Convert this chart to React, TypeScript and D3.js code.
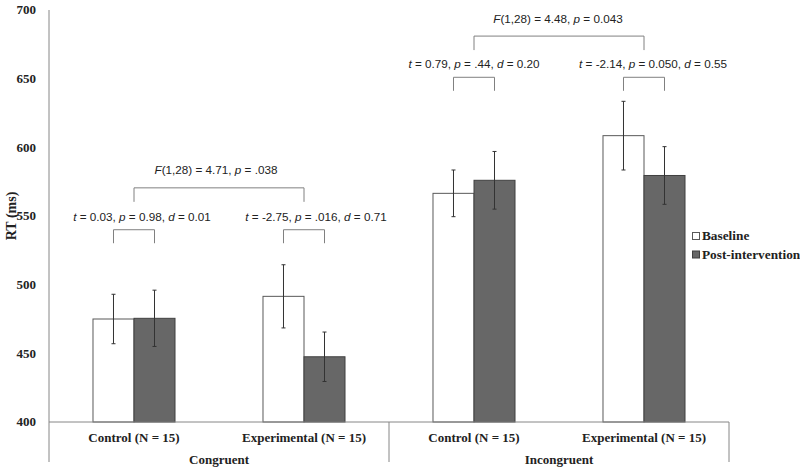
import React from "react";
import * as d3 from "d3";

// ---- data ----
const conditions = ["Congruent", "Incongruent"];
const groups = ["Control (N = 15)", "Experimental (N = 15)"];
const series = ["Baseline", "Post-intervention"];
const baselineMeans = [475, 491.5, 566.5, 608.5];
const postMeans = [475.5, 447.5, 576, 579.5];
const baselineErr = [18, 23, 17, 25];
const postErr = [20.5, 18, 21, 21];
const yTicks = [400, 450, 500, 550, 600, 650, 700];

const tValues = ["0.03", "-2.75", "0.79", "-2.14"];
const tPValues = ["0.98", ".016", ".44", "0.050"];
const dValues = ["0.01", "0.71", "0.20", "0.55"];
const tBracketLevel = [540, 540, 651, 651];
const fValues = ["4.71", "4.48"];
const fPValues = [".038", "0.043"];
const fBracketLevel = [570.5, 681];

// ---- layout ----
const W = 800;
const H = 469;
const X0 = 49;
const X1 = 729;
const Y_TOP = 10;
const Y_BASE = 422;
const AXIS_BOTTOM = 462;
const tLabelDx = [8, 12, 0, 9];
const fLabelDx = [-3, -1];
const colors = ["#ffffff", "#676767"];
const strokes = ["#595959", "#404040"];
const axisColor = "#868686";
const bracketColor = "#808080";

export default function App() {
  const cells = d3.range(conditions.length * groups.length);
  const x = d3
    .scaleBand<number>()
    .domain(cells)
    .range([X0, X1])
    .paddingInner(0.5176)
    .paddingOuter(0.2588);
  const xs = d3.scaleBand<string>().domain(series).range([0, x.bandwidth()]);
  const y = d3.scaleLinear().domain([400, 700]).range([Y_BASE, Y_TOP]);
  const means = [baselineMeans, postMeans];
  const errs = [baselineErr, postErr];
  const serif = "'Liberation Serif', 'Times New Roman', serif";
  const sans = "'Liberation Sans', Arial, sans-serif";
  const condWidth = (X1 - X0) / conditions.length;

  return (
    <div style={{ position: "fixed", left: 0, top: 0, width: W, height: H, background: "#fff" }}>
      <svg width={W} height={H} style={{ display: "block" }}>
        <rect width={W} height={H} fill="#fff" />
        {/* y tick labels */}
        {yTicks.map((t) => (
          <text
            key={t}
            x={36}
            y={y(t)}
            dy="0.34em"
            textAnchor="end"
            fontFamily={serif}
            fontWeight="bold"
            fontSize={13}
            fill="#222"
          >
            {t}
          </text>
        ))}
        <text
          transform={`translate(16,${(Y_TOP + Y_BASE) / 2}) rotate(-90)`}
          textAnchor="middle"
          fontFamily={serif}
          fontWeight="bold"
          fontSize={14}
          fill="#222"
        >
          RT (ms)
        </text>

        {/* bars */}
        {cells.map((c) =>
          series.map((s, si) => {
            const bx = (x(c) as number) + (xs(s) as number);
            const v = means[si][c];
            return (
              <rect
                key={`${c}-${s}`}
                x={bx}
                y={y(v)}
                width={xs.bandwidth()}
                height={Y_BASE - y(v)}
                fill={colors[si]}
                stroke={strokes[si]}
                strokeWidth={1}
              />
            );
          })
        )}
        {/* error bars */}
        {cells.map((c) =>
          series.map((s, si) => {
            const cx = (x(c) as number) + (xs(s) as number) + xs.bandwidth() / 2;
            const v = means[si][c];
            const e = errs[si][c];
            return (
              <g key={`e-${c}-${s}`} stroke="#333" strokeWidth={1}>
                <line x1={cx} x2={cx} y1={y(v + e)} y2={y(v - e)} />
                <line x1={cx - 2} x2={cx + 2} y1={y(v + e)} y2={y(v + e)} />
                <line x1={cx - 2} x2={cx + 2} y1={y(v - e)} y2={y(v - e)} />
              </g>
            );
          })
        )}

        {/* axes */}
        <g stroke={axisColor} strokeWidth={1} fill="none">
          <line x1={X0} x2={X0} y1={Y_TOP} y2={AXIS_BOTTOM} />
          <line x1={X0} x2={X1} y1={Y_BASE} y2={Y_BASE} />
          {conditions.map((_, i) => (
            <line
              key={i}
              x1={X0 + condWidth * (i + 1)}
              x2={X0 + condWidth * (i + 1)}
              y1={Y_BASE}
              y2={AXIS_BOTTOM}
            />
          ))}
        </g>
        {cells.map((c) => (
          <text
            key={`g-${c}`}
            x={(x(c) as number) + x.bandwidth() / 2}
            y={442}
            textAnchor="middle"
            fontFamily={serif}
            fontWeight="bold"
            fontSize={13}
            fill="#222"
          >
            {groups[c % groups.length]}
          </text>
        ))}
        {conditions.map((cond, i) => (
          <text
            key={cond}
            x={X0 + condWidth * (i + 0.5)}
            y={464}
            textAnchor="middle"
            fontFamily={serif}
            fontWeight="bold"
            fontSize={13}
            fill="#222"
          >
            {cond}
          </text>
        ))}

        {/* t-test brackets */}
        {cells.map((c) => {
          const xa = (x(c) as number) + (xs(series[0]) as number) + xs.bandwidth() / 2;
          const xb = (x(c) as number) + (xs(series[1]) as number) + xs.bandwidth() / 2;
          const top = y(tBracketLevel[c]);
          const leg = top + 13.5;
          return (
            <g key={`t-${c}`}>
              <path
                d={`M${xa},${leg}V${top}H${xb}V${leg}`}
                fill="none"
                stroke={bracketColor}
                strokeWidth={1}
              />
              <text
                x={(xa + xb) / 2 + tLabelDx[c]}
                y={top - 9}
                textAnchor="middle"
                fontFamily={sans}
                fontSize={11.7}
                fill="#222"
              >
                <tspan fontStyle="italic">t</tspan> = {tValues[c]}, <tspan fontStyle="italic">p</tspan> ={" "}
                {tPValues[c]}, <tspan fontStyle="italic">d</tspan> = {dValues[c]}
              </text>
            </g>
          );
        })}

        {/* F brackets */}
        {conditions.map((cond, i) => {
          const ca = 2 * i;
          const cb = 2 * i + 1;
          const xa = (x(ca) as number) + x.bandwidth() / 2;
          const xb = (x(cb) as number) + x.bandwidth() / 2;
          const top = y(fBracketLevel[i]);
          const leg = top + 14;
          return (
            <g key={`f-${cond}`}>
              <path
                d={`M${xa},${leg}V${top}H${xb}V${leg}`}
                fill="none"
                stroke={bracketColor}
                strokeWidth={1}
              />
              <text
                x={(xa + xb) / 2 + fLabelDx[i]}
                y={top - 13.5}
                textAnchor="middle"
                fontFamily={sans}
                fontSize={11.7}
                fill="#222"
              >
                <tspan fontStyle="italic">F</tspan>(1,28) = {fValues[i]}, <tspan fontStyle="italic">p</tspan> ={" "}
                {fPValues[i]}
              </text>
            </g>
          );
        })}

        {/* legend */}
        {series.map((s, si) => (
          <g key={`l-${s}`} transform={`translate(692.5,${232.5 + si * 18.5})`}>
            <rect width={7} height={7} fill={colors[si]} stroke={strokes[si]} strokeWidth={1} />
            <text
              x={9.5}
              y={7.5}
              fontFamily={serif}
              fontWeight="bold"
              fontSize={13.3}
              fill="#222"
            >
              {s}
            </text>
          </g>
        ))}
      </svg>
    </div>
  );
}
